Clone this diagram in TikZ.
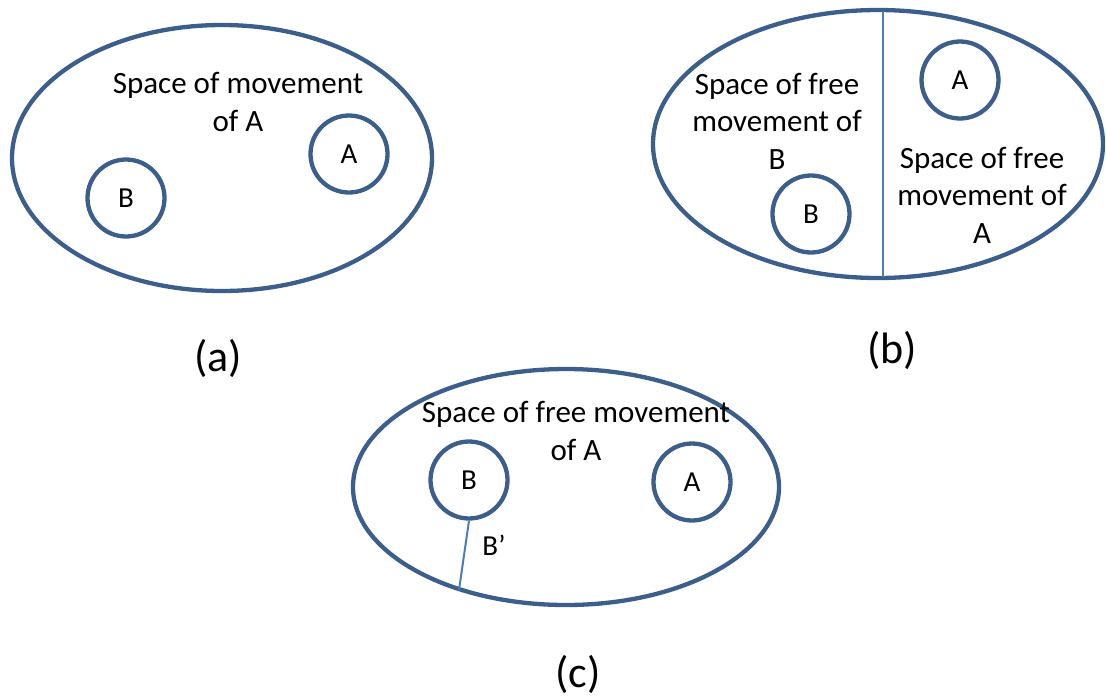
\documentclass[tikz,border=0pt]{standalone}
\usepackage{fontspec}
\setmainfont{Carlito}
\definecolor{edge}{HTML}{3B5E8C}
\definecolor{thin}{HTML}{4A7EBB}
\begin{document}
\begin{tikzpicture}[x=1pt,y=-1pt,
  region/.style={draw=edge,line width=4.3pt},
  obj/.style={circle,draw=edge,line width=4.3pt,minimum size=77pt,inner sep=0pt,font=\fontsize{29}{29}\selectfont},
  lbl/.style={font=\fontsize{31}{37.5}\selectfont,align=center,inner sep=0pt},
  figlabel/.style={font=\fontsize{44}{44}\selectfont,inner sep=0pt},
  divider/.style={draw=thin,line width=2pt}]
\useasboundingbox (0,0) rectangle (1106,697);
% (a)
\draw[region] (222,158) ellipse [x radius=210, y radius=133];
\node[obj] (aA) at (349,154) {A};
\node[obj] (aB) at (126,198) {B};
\node[lbl] (aT) at (238,102) {Space of movement\\of A};
\node[figlabel] (ca) at (218,358) {(a)};
% (b)
\draw[region] (878,144) ellipse [x radius=225, y radius=134];
\coordinate (bTop) at (883,11);
\coordinate (bBot) at (883,277);
\draw[divider] (bTop) -- (bBot);
\node[obj] (bA) at (960,80) {A};
\node[obj] (bB) at (811,214) {B};
\node[lbl] (bT1) at (777,121) {Space of free\\movement of\\B};
\node[lbl] (bT2) at (982,195) {Space of free\\movement of\\A};
\node[figlabel] (cb) at (892,350) {(b)};
% (c)
\draw[region] (566,487) ellipse [x radius=213, y radius=118];
\node[obj] (cA) at (692,482) {A};
\node[obj] (cB) at (469,480) {B};
\node[lbl] (cT) at (576,431) {Space of free movement\\of A};
\coordinate (bEnd) at (459,590);
\draw[divider] (cB.south) -- (bEnd);
\node[font=\fontsize{29}{29}\selectfont,inner sep=0pt] (bp) at (494,545) {B’};
\node[figlabel] (cc) at (578,674) {(c)};
\end{tikzpicture}
\end{document}
